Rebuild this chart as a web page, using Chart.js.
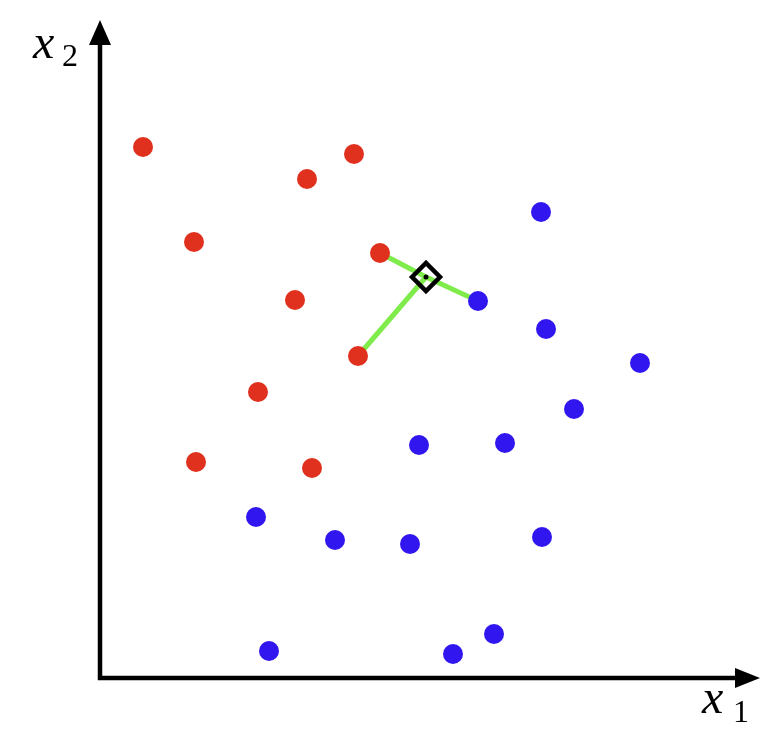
<!DOCTYPE html>
<html>
<head>
<meta charset="utf-8">
<script src="https://cdn.jsdelivr.net/npm/chart.js@4"></script>
<style>
  body { margin: 0; background: #ffffff; }
  #wrap { width: 779px; height: 737px; }
</style>
</head>
<body>
<div id="wrap"><canvas id="grafico" width="779" height="737"></canvas></div>
<script>
// puntos de la clase roja (x1, x2)
const rojoX = [4.3, 25.4, 20.7, 9.4, 28.0, 19.5, 25.8, 15.8, 9.6, 21.2];
const rojoY = [53.1, 52.4, 49.9, 43.6, 42.5, 37.8, 32.2, 28.6, 21.6, 21.0];

// puntos de la clase azul
const azulX = [44.1, 37.8, 44.6, 54.0, 47.4, 31.9, 40.5, 15.6, 23.5, 31.0, 44.2, 16.9, 39.4, 35.3];
const azulY = [46.6, 37.7, 34.9, 31.5, 26.9, 23.3, 23.5, 16.1, 13.8, 13.4, 14.1, 2.7, 4.4, 2.4];

// punto a clasificar
const consultaX = [32.6];
const consultaY = [40.1];

// vecinos mas cercanos: [clase, indice]
const vecinos = [['rojo', 4], ['azul', 1], ['rojo', 6]];

// extremos de los ejes (puntas de flecha)
const ejeXmax = 66.0;
const ejeYmax = 65.8;

const etiquetaX = 'x';
const subX = '1';
const etiquetaY = 'x';
const subY = '2';

function aPuntos(xs, ys) {
  return xs.map((x, i) => ({ x: x, y: ys[i] }));
}

const rojos = aPuntos(rojoX, rojoY);
const azules = aPuntos(azulX, azulY);
const consulta = aPuntos(consultaX, consultaY);

const lineas = vecinos.map(v => {
  const p = v[0] === 'rojo' ? rojos[v[1]] : azules[v[1]];
  return {
    type: 'line',
    data: [consulta[0], p],
    borderColor: '#7fec4c',
    borderWidth: 5,
    pointRadius: 0,
    showLine: true,
    fill: false,
    order: 3
  };
});

const ejes = {
  id: 'ejes',
  beforeDatasetsDraw(chart) {
    const c = chart.ctx;
    const sx = chart.scales.x, sy = chart.scales.y;
    const x0 = sx.getPixelForValue(0), y0 = sy.getPixelForValue(0);
    const xf = sx.getPixelForValue(ejeXmax), yf = sy.getPixelForValue(ejeYmax);
    c.save();
    c.strokeStyle = '#000';
    c.fillStyle = '#000';
    c.lineWidth = 4.5;
    c.lineCap = 'square';
    c.beginPath();
    c.moveTo(x0, y0);
    c.lineTo(x0, yf + 20);
    c.moveTo(x0, y0);
    c.lineTo(xf - 20, y0);
    c.stroke();
    // flechas
    c.beginPath();
    c.moveTo(x0, yf);
    c.lineTo(x0 - 11, yf + 25);
    c.lineTo(x0 + 11, yf + 25);
    c.closePath();
    c.fill();
    c.beginPath();
    c.moveTo(xf, y0);
    c.lineTo(xf - 25, y0 - 10);
    c.lineTo(xf - 25, y0 + 10);
    c.closePath();
    c.fill();
    // etiquetas
    c.textBaseline = 'alphabetic';
    c.font = 'italic 48px "Liberation Serif", "DejaVu Serif", serif';
    c.fillText(etiquetaY, x0 - 67, yf + 38);
    c.fillText(etiquetaX, xf - 58, y0 + 35);
    c.font = '32px "Liberation Serif", "DejaVu Serif", serif';
    c.fillText(subY, x0 - 38, yf + 46);
    c.fillText(subX, xf - 27, y0 + 44);
    c.restore();
  }
};

const ctx = document.getElementById('grafico').getContext('2d');
window.chartKnn = new Chart(ctx, {
  type: 'scatter',
  data: {
    datasets: [
      ...lineas,
      {
        data: rojos,
        backgroundColor: '#e0301e',
        borderWidth: 0,
        pointRadius: 10,
        order: 2
      },
      {
        data: azules,
        backgroundColor: '#3116ef',
        borderWidth: 0,
        pointRadius: 10,
        order: 2
      },
      {
        data: consulta,
        pointStyle: 'rectRot',
        backgroundColor: 'rgba(255,255,255,0)',
        borderColor: '#000',
        borderWidth: 4.5,
        pointRadius: 14,
        order: 1
      },
      {
        data: consulta,
        backgroundColor: '#000',
        borderWidth: 0,
        pointRadius: 2.5,
        order: 0
      }
    ]
  },
  options: {
    responsive: false,
    animation: false,
    layout: { padding: 0, autoPadding: false },
    plugins: {
      legend: { display: false },
      tooltip: { enabled: false }
    },
    scales: {
      x: { type: 'linear', min: -10, max: 67.9, display: false },
      y: { type: 'linear', min: -5.9, max: 67.8, display: false }
    }
  },
  plugins: [ejes]
});
</script>
</body>
</html>
